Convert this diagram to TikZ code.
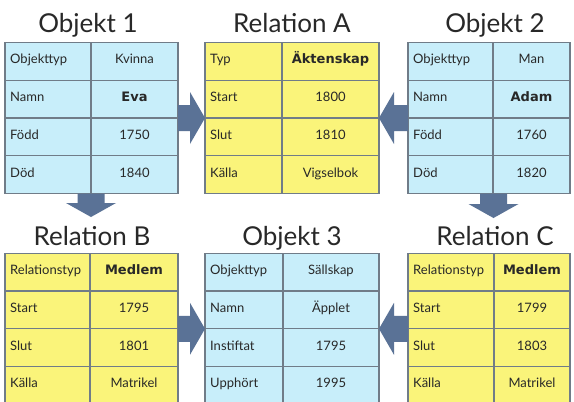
\documentclass[tikz,border=0pt]{standalone}
\usepackage{fontspec}
\setmainfont{Lato}
\newfontfamily\boldvalfont{DejaVu Sans}
\usetikzlibrary{calc}
\definecolor{cellblue}{RGB}{200,238,250}
\definecolor{cellyellow}{RGB}{250,244,122}
\definecolor{gridc}{RGB}{112,124,136}
\definecolor{arrowc}{RGB}{90,114,150}
\definecolor{textc}{RGB}{40,40,40}
\tikzset{
  tbox/.style={draw=gridc, line width=1.2pt, inner sep=0pt, outer sep=0pt, anchor=north west},
  gridline/.style={draw=gridc, line width=1.2pt},
  title/.style={font=\fontsize{26}{30}\selectfont, text=textc, anchor=base, inner sep=0pt},
  lab/.style={font=\fontsize{13}{15}\selectfont, text=textc, anchor=mid west, inner sep=0pt},
  val/.style={font=\fontsize{13}{15}\selectfont, text=textc, anchor=mid, inner sep=0pt},
  bval/.style={font=\boldvalfont\fontsize{13}{15}\selectfont\bfseries, text=textc, anchor=mid, inner sep=0pt},
  blockarrow/.style={fill=arrowc, draw=none},
}
% table frame: name, left, top, right, split, fill
\newcommand\maketable[6]{%
  \node[tbox, fill=#6, minimum width={(#4)-(#2)}, minimum height=151] (#1) at (#2,#3) {};
  \draw[gridline] (#5,#3) -- (#5,#3+151);
  \foreach \k in {1,2,3} \draw[gridline] (#2,#3+\k*37.75) -- (#4,#3+\k*37.75);
}
% row: prefix, index, left, split, right, top, label, value style, value
\newcommand\cells[9]{%
  \node[lab] (#1l#2) at ({#3+5},{#6+(#2-0.5)*37.75}) {#7};
  \node[#8] (#1v#2) at ({(#4+#5)/2},{#6+(#2-0.5)*37.75}) {#9};
}
\newcommand\harrow[3]{%
  \fill[blockarrow] let \p1=(#1), \p2=(#2) in
    (\x1,\y1+13pt) -- (\x2#3,\y1+13pt) -- (\x2#3,\y1+26pt) -- (\x2,\y1)
    -- (\x2#3,\y1-26pt) -- (\x2#3,\y1-13pt) -- (\x1,\y1-13pt) -- cycle;}
\newcommand\varrow[2]{%
  \fill[blockarrow] let \p1=(#1), \p2=(#2) in
    (\x2-13.5pt,\y1) -- (\x2-13.5pt,\y2+14pt) -- (\x2-25pt,\y2+14pt) -- (\x2,\y2)
    -- (\x2+25pt,\y2+14pt) -- (\x2+13.5pt,\y2+14pt) -- (\x2+13.5pt,\y1) -- cycle;}
\begin{document}
\begin{tikzpicture}[x=1pt,y=-1pt]
\useasboundingbox (0,0) rectangle (574,402);
\clip (0,0) rectangle (574,402);
\fill[white] (0,0) rectangle (574,402);

% titles
\node[title] (t1) at (88,32) {Objekt 1};
\node[title] (tA) at (292,32) {Relation A};
\node[title] (t2) at (495,32) {Objekt 2};
\node[title] (tB) at (92,245) {Relation B};
\node[title] (t3) at (292,245) {Objekt 3};
\node[title] (tC) at (495,245) {Relation C};

% tables
\maketable{o1}{5}{42.5}{178}{91}{cellblue}
\maketable{ra}{205}{42.5}{379}{282}{cellyellow}
\maketable{o2}{408}{42.5}{570}{493}{cellblue}
\maketable{rb}{5}{253.3}{178}{90}{cellyellow}
\maketable{o3}{205}{253.3}{379}{283}{cellblue}
\maketable{rc}{408}{253.3}{570}{494}{cellyellow}

% arrows
\coordinate (d1) at (91,217);
\coordinate (d2) at (493.5,218);
\harrow{o1.east}{ra.west}{-15pt}
\harrow{o2.west}{ra.east}{+15pt}
\harrow{rb.east}{o3.west}{-15pt}
\harrow{rc.west}{o3.east}{+15pt}
\varrow{o1.south -| d1}{d1}
\varrow{o2.south -| d2}{d2}

% cells
\cells{o1}{1}{5}{91}{178}{42.5}{Objekttyp}{val}{Kvinna}
\cells{o1}{2}{5}{91}{178}{42.5}{Namn}{bval}{Eva}
\cells{o1}{3}{5}{91}{178}{42.5}{Född}{val}{1750}
\cells{o1}{4}{5}{91}{178}{42.5}{Död}{val}{1840}

\cells{ra}{1}{205}{282}{379}{42.5}{Typ}{bval}{Äktenskap}
\cells{ra}{2}{205}{282}{379}{42.5}{Start}{val}{1800}
\cells{ra}{3}{205}{282}{379}{42.5}{Slut}{val}{1810}
\cells{ra}{4}{205}{282}{379}{42.5}{Källa}{val}{Vigselbok}

\cells{o2}{1}{408}{493}{570}{42.5}{Objekttyp}{val}{Man}
\cells{o2}{2}{408}{493}{570}{42.5}{Namn}{bval}{Adam}
\cells{o2}{3}{408}{493}{570}{42.5}{Född}{val}{1760}
\cells{o2}{4}{408}{493}{570}{42.5}{Död}{val}{1820}

\cells{rb}{1}{5}{90}{178}{253.3}{Relationstyp}{bval}{Medlem}
\cells{rb}{2}{5}{90}{178}{253.3}{Start}{val}{1795}
\cells{rb}{3}{5}{90}{178}{253.3}{Slut}{val}{1801}
\cells{rb}{4}{5}{90}{178}{253.3}{Källa}{val}{Matrikel}

\cells{o3}{1}{205}{283}{379}{253.3}{Objekttyp}{val}{Sällskap}
\cells{o3}{2}{205}{283}{379}{253.3}{Namn}{val}{Äpplet}
\cells{o3}{3}{205}{283}{379}{253.3}{Instiftat}{val}{1795}
\cells{o3}{4}{205}{283}{379}{253.3}{Upphört}{val}{1995}

\cells{rc}{1}{408}{494}{570}{253.3}{Relationstyp}{bval}{Medlem}
\cells{rc}{2}{408}{494}{570}{253.3}{Start}{val}{1799}
\cells{rc}{3}{408}{494}{570}{253.3}{Slut}{val}{1803}
\cells{rc}{4}{408}{494}{570}{253.3}{Källa}{val}{Matrikel}
\end{tikzpicture}
\end{document}
